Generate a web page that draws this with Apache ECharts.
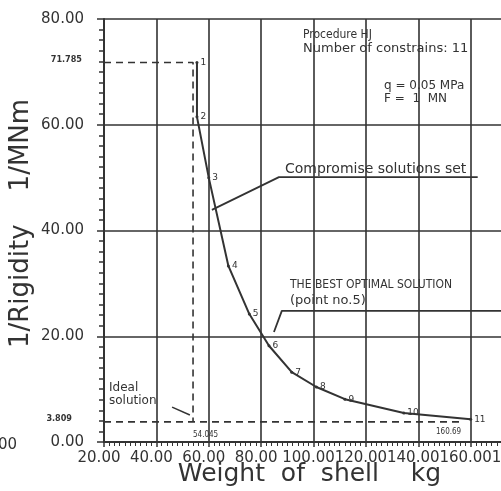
<!DOCTYPE html>
<html>
<head>
<meta charset="utf-8">
<script src="https://cdn.jsdelivr.net/npm/echarts@6/dist/echarts.min.js"></script>
<style>html,body{margin:0;padding:0;background:#fff}#c{width:501px;height:491px}</style>
</head>
<body>
<div id="c"></div>
<script>
// ---- data ----
const pointLabels = ['1','2','3','4','5','6','7','8','9','10','11'];
const weight      = [55.5, 55.5, 60.0, 67.5, 75.5, 83.0, 91.7, 101.1, 112.0, 134.5, 160.0];
const rigidity    = [71.785, 61.5, 50.0, 33.3, 24.2, 18.2, 13.2, 10.4, 8.1, 5.5, 4.3];
const idealWeight = 54.0;
const idealRigidity = 3.809;
const worstRigidity = 71.785;
const xTicks = [20, 40, 60, 80, 100, 120, 140, 160, 180];
const yTicks = [0, 20, 40, 60, 80];
// annotation leader lines (data coordinates)
const compromiseLeader = [[61.2, 43.9], [86.8, 50.1], [162.7, 50.1]];
const bestLeader = [[84.9, 20.8], [87.9, 24.8], [180, 24.8]];
const idealLeader = [[46.0, 6.6], [52.8, 5.1]];

const INK = '#333';
const FONT = 'DejaVu Sans';
const chart = echarts.init(document.getElementById('c'), null, {renderer: 'canvas'});

const dashStyle = {color: INK, width: 1.6, type: [7, 5]};
const option = {
  backgroundColor: '#fff',
  animation: false,
  grid: {left: 104, right: -22, top: 19, bottom: 49, containLabel: false, outerBoundsMode: 'none'},
  xAxis: {
    type: 'value', min: xTicks[0], max: xTicks[xTicks.length - 1], interval: 20,
    name: 'Weight  of  shell    kg', nameLocation: 'middle', nameGap: 20, nameMoveOverlap: false,
    nameTextStyle: {fontFamily: FONT, fontSize: 25, color: INK, padding: [0, 8, 0, 0]},
    axisLine: {show: true, lineStyle: {color: INK, width: 2}},
    axisTick: {show: true, length: 5, lineStyle: {color: INK, width: 1.5}},
    minorTick: {show: true, splitNumber: 10, length: 4, lineStyle: {color: INK, width: 1}},
    axisLabel: {interval: 0, fontFamily: FONT, fontSize: 15, color: INK, margin: 9,
      padding: [0, 10, 0, 0], formatter: v => v.toFixed(2)},
    splitLine: {show: true, lineStyle: {color: INK, width: 1.6}}
  },
  yAxis: {
    type: 'value', min: yTicks[0], max: yTicks[yTicks.length - 1], interval: 20,
    name: '1/Rigidity    1/MNm', nameLocation: 'middle', nameGap: 70, nameRotate: 90, nameMoveOverlap: false,
    nameTextStyle: {fontFamily: FONT, fontSize: 26, color: INK, padding: [0, 0, 0, 14]},
    axisLine: {show: true, lineStyle: {color: INK, width: 2}},
    axisTick: {show: true, length: 7, lineStyle: {color: INK, width: 1.5}},
    minorTick: {show: true, splitNumber: 10, length: 5, lineStyle: {color: INK, width: 1.5}},
    axisLabel: {fontFamily: FONT, fontSize: 15, color: INK, margin: 20, formatter: v => v.toFixed(2)},
    splitLine: {show: true, lineStyle: {color: INK, width: 1.6}}
  },
  series: [
    {
      type: 'line', data: [[xTicks[0], worstRigidity], [idealWeight, worstRigidity], [idealWeight, idealRigidity]],
      symbol: 'none', lineStyle: dashStyle, silent: true
    },
    {
      type: 'line', data: [[xTicks[0], idealRigidity], [157, idealRigidity]],
      symbol: 'none', lineStyle: dashStyle, silent: true
    },
    {type: 'line', data: compromiseLeader, symbol: 'none', lineStyle: {color: INK, width: 1.8}},
    {type: 'line', data: bestLeader, symbol: 'none', lineStyle: {color: INK, width: 1.8}},
    {type: 'line', data: idealLeader, symbol: 'none', lineStyle: {color: INK, width: 1.5}},
    {
      type: 'line',
      data: weight.map((w, i) => ({value: [w, rigidity[i]], name: pointLabels[i]})),
      symbol: 'circle', symbolSize: 3,
      itemStyle: {color: INK},
      lineStyle: {color: INK, width: 2},
      label: {show: true, position: 'right', distance: 2, formatter: p => p.name,
        fontFamily: FONT, fontSize: 9, color: INK}
    }
  ],
  graphic: [
    {type: 'text', left: 303, top: 29, style: {text: 'Procedure HJ', font: '12px "DejaVu Sans Condensed", "DejaVu Sans"', fill: INK}},
    {type: 'text', left: 303, top: 42, style: {text: 'Number of constrains: 11', font: '13px "DejaVu Sans"', fill: INK}},
    {type: 'text', left: 384, top: 80, style: {text: 'q = 0.05 MPa', font: '12px "DejaVu Sans"', fill: INK}},
    {type: 'text', left: 384, top: 93, style: {text: 'F =  1  MN', font: '12px "DejaVu Sans"', fill: INK}},
    {type: 'text', left: 285, top: 162, style: {text: 'Compromise solutions set', font: '14px "DejaVu Sans"', fill: INK}},
    {type: 'text', left: 290, top: 279, style: {text: 'THE BEST OPTIMAL SOLUTION', font: '12px "DejaVu Sans Condensed", "DejaVu Sans"', fill: INK}},
    {type: 'text', left: 290, top: 294, style: {text: '(point no.5)', font: '13px "DejaVu Sans"', fill: INK}},
    {type: 'text', left: 109, top: 381, style: {text: 'Ideal\nsolution', font: '12px "DejaVu Sans"', lineHeight: 13, fill: INK}},
    {type: 'text', right: 501 - 82, top: 55, style: {text: '71.785', font: 'bold 9px "DejaVu Sans Condensed", "DejaVu Sans"', fill: INK, textAlign: 'right'}},
    {type: 'text', right: 501 - 72, top: 414, style: {text: '3.809', font: 'bold 9px "DejaVu Sans Condensed", "DejaVu Sans"', fill: INK, textAlign: 'right'}},
    {type: 'text', left: 193, top: 431, style: {text: '54.045', font: '8px "DejaVu Sans Condensed", "DejaVu Sans"', fill: INK}},
    {type: 'text', left: 436, top: 428, style: {text: '160.69', font: '8px "DejaVu Sans Condensed", "DejaVu Sans"', fill: INK}},
    {type: 'text', left: -2, top: 438, style: {text: '00', font: '15px "DejaVu Sans"', fill: INK}}
  ]
};
chart.setOption(option);
</script>
</body>
</html>
